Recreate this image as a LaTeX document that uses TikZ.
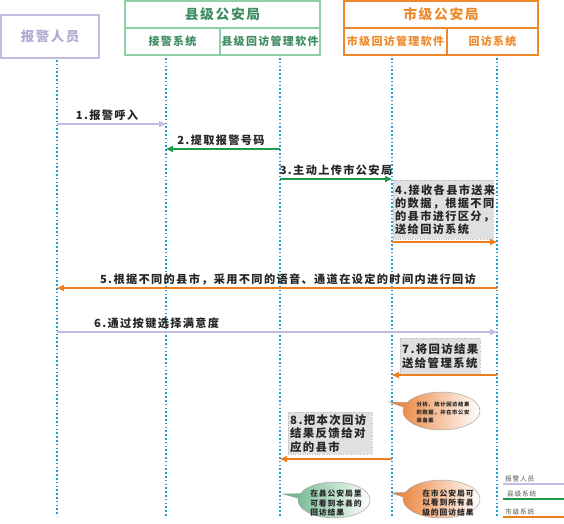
\documentclass[tikz,border=0pt]{standalone}
\usepackage{fontspec}
\setmainfont{Noto Sans CJK SC}[LetterSpace=12]
\usetikzlibrary{arrows.meta,shapes.callouts,shapes.geometric}
\definecolor{lav}{HTML}{C4BCE0}
\definecolor{lavtext}{HTML}{B2AAD2}
\definecolor{grn}{HTML}{1E9A4C}
\definecolor{grnbox}{HTML}{8ED0A8}
\definecolor{grntext}{HTML}{3E8C62}
\definecolor{grnshade}{HTML}{5FB07E}
\definecolor{org}{HTML}{EE7F1E}
\definecolor{orgbox}{HTML}{EE8A2C}
\definecolor{orgshade}{HTML}{E8782A}
\definecolor{life}{HTML}{1E9BE0}
\definecolor{boxgray}{HTML}{E0E0E0}
\definecolor{legtext}{HTML}{555555}
\tikzset{
  hdr/.style={draw, line width=1.6pt, inner sep=0pt, font=\fontsize{11}{13}\selectfont\bfseries},
  bighdr/.style={hdr, font=\fontsize{13.75}{15}\selectfont\bfseries},
  lifeline/.style={draw=life, line width=1.6pt, dash pattern=on 1.6pt off 2.2pt},
  msg/.style={line width=1.4pt, -{Triangle[length=7pt,width=6pt]}},
  lbl/.style={font=\fontsize{11.2}{13}\selectfont\bfseries, anchor=base, inner sep=0pt, text=black!85},
  note/.style={fill=boxgray, draw=gray!55, dotted, inner sep=2pt, align=left, anchor=north west, text=black!85},
  bubble/.style={ellipse callout, draw=gray!70, line width=0.5pt, inner sep=0pt},
  bubbletext/.style={align=left, inner sep=0pt, text=black!85},
  legline/.style={line width=1.3pt},
  legtxt/.style={anchor=base west, inner sep=0pt, text=legtext, font=\fontsize{6.7}{8}\selectfont}
}
\begin{document}
\begin{tikzpicture}[x=1pt,y=-1pt]
\useasboundingbox (0,0) rectangle (564,523);
% lifeline coordinates
\coordinate (L1) at (57,60);  \coordinate (L1b) at (57,516);
\coordinate (L2) at (166,58); \coordinate (L2b) at (166,516);
\coordinate (L3) at (280,58); \coordinate (L3b) at (280,516);
\coordinate (L4) at (392,58); \coordinate (L4b) at (392,516);
\coordinate (L5) at (497,58); \coordinate (L5b) at (497,516);
\foreach \a in {1,...,5} {\draw[lifeline] (L\a) -- (L\a b);}
% headers
\node[hdr, draw=lav, text=lavtext, minimum width=98pt, minimum height=43pt,
      font=\fontsize{13.4}{15}\selectfont\bfseries] (p) at (50,36.5) {报警人员};
\node[bighdr, draw=grnbox, text=grntext, minimum width=195pt, minimum height=27pt] (cty) at (222.5,14.5) {县级公安局};
\node[hdr, draw=grnbox, text=grntext, minimum width=95pt, minimum height=27pt] (jj) at (172.5,41.5) {接警系统};
\node[hdr, draw=grnbox, text=grntext, minimum width=100pt, minimum height=27pt] (cs) at (270,41.5) {县级回访管理软件};
\node[bighdr, draw=orgbox, text=orgbox, minimum width=194pt, minimum height=27pt] (city) at (441,14.5) {市级公安局};
\node[hdr, draw=orgbox, text=orgbox, minimum width=103pt, minimum height=27pt] (cm) at (395.5,41.5) {市级回访管理软件};
\node[hdr, draw=orgbox, text=orgbox, minimum width=91pt, minimum height=27pt] (hf) at (492.5,41.5) {回访系统};
% rows
\coordinate (r1) at (0,124);
\coordinate (r2) at (0,149);
\coordinate (r3) at (0,179);
\coordinate (r4) at (0,242);
\coordinate (r5) at (0,288);
\coordinate (r6) at (0,332);
\coordinate (r7) at (0,375);
\coordinate (r8) at (0,459);
% gray notes
\node[note, minimum width=100pt, minimum height=59pt, text width=96pt,
      font=\fontsize{11.2}{13.2}\selectfont\bfseries] (n4) at (393,180)
  {4.接收各县市送来\\的数据，根据不同\\的县市进行区分，\\送给回访系统};
\node[note, minimum width=80pt, minimum height=36pt, text width=76pt,
      font=\fontsize{11.4}{13.5}\selectfont\bfseries] (n7) at (400,338)
  {7.将回访结果\\送给管理系统};
\node[note, minimum width=84pt, minimum height=41pt, text width=80pt,
      font=\fontsize{11.4}{13.5}\selectfont\bfseries] (n8) at (288,412)
  {8.把本次回访\\结果反馈给对\\应的县市};
% messages
\draw[msg, lav] (L1 |- r1) -- (L2 |- r1);
\node[lbl] (t1) at (107,119) {1.报警呼入};
\draw[msg, grn] (L3 |- r2) -- (L2 |- r2);
\node[lbl] (t2) at (221,144) {2.提取报警号码};
\draw[msg, grn] (L3 |- r3) -- (L4 |- r3);
\node[lbl] (t3) at (336,174) {3.主动上传市公安局};
\draw[msg, org] (L4 |- r4) -- (L5 |- r4);
\draw[msg, org] (L5 |- r5) -- (L1 |- r5);
\node[lbl] (t5) at (288,283) {5.根据不同的县市，采用不同的语音、通道在设定的时间内进行回访};
\draw[msg, lav] (L1 |- r6) -- (L5 |- r6);
\node[lbl, anchor=base west] (t6) at (94,327) {6.通过按键选择满意度};
\draw[msg, org] (L5 |- r7) -- (L4 |- r7);
\draw[msg, org] (L4 |- r8) -- (L3 |- r8);
% callouts
\coordinate (tipA) at (389,402);
\node[bubble, minimum width=77pt, minimum height=38pt, left color=orgshade, right color=white,
      callout absolute pointer={(tipA)}] (cA) at (441.5,411) {};
\node[bubbletext, font=\bfseries\fontsize{5.3}{8}\selectfont] (cAt) at (443,412.5)
  {分析、统计回访结果\\的数据，并在市公安\\局备案};
\coordinate (tipB) at (283,494);
\node[bubble, minimum width=72pt, minimum height=36pt, left color=grnshade, right color=white,
      callout absolute pointer={(tipB)}] (cB) at (334,500) {};
\node[bubbletext, font=\bfseries\fontsize{7.8}{9.5}\selectfont] (cBt) at (336,503.5)
  {在县公安局里\\可看到本县的\\回访结果};
\coordinate (tipC) at (391,493);
\node[bubble, minimum width=77pt, minimum height=38pt, left color=orgshade, right color=white,
      callout absolute pointer={(tipC)}] (cC) at (441.5,499) {};
\node[bubbletext, font=\bfseries\fontsize{7.8}{9.5}\selectfont] (cCt) at (448,502.5)
  {在市公安局可\\以看到所有县\\级的回访结果};
% legend
\node[legtxt] (lg1) at (505,481) {报警人员};
\coordinate (lg1a) at (503,484); \coordinate (lg1b) at (564,484);
\draw[legline, lav] (lg1a) -- (lg1b);
\node[legtxt] (lg2) at (507,496) {县级系统};
\coordinate (lg2a) at (503,499); \coordinate (lg2b) at (564,499);
\draw[legline, grn] (lg2a) -- (lg2b);
\node[legtxt] (lg3) at (505,514) {市级系统};
\coordinate (lg3a) at (503,517); \coordinate (lg3b) at (564,517);
\draw[legline, org] (lg3a) -- (lg3b);
\end{tikzpicture}
\end{document}
